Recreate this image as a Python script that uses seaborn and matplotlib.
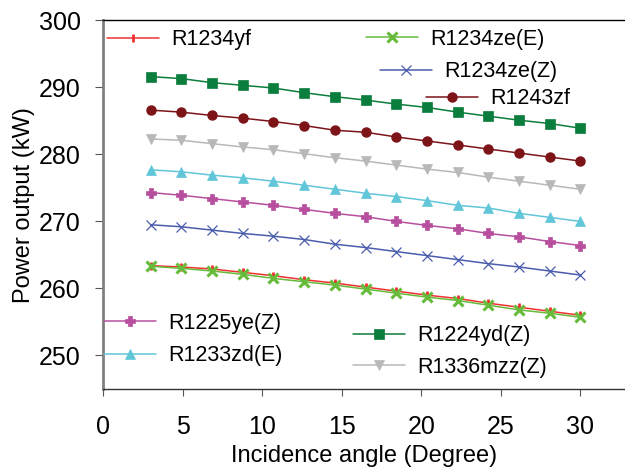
import matplotlib
matplotlib.use('Agg')
import matplotlib.pyplot as plt
import seaborn as sns
import pandas as pd

# incidence angle (degree)
angle = [3, 4.93, 6.86, 8.79, 10.71, 12.64, 14.57, 16.5, 18.43, 20.36, 22.29, 24.21, 26.14, 28.07, 30]

# power output (kW)
r1234yf = [263.4, 263.2, 262.9, 262.4, 261.9, 261.3, 260.8, 260.2, 259.6, 259.0, 258.5, 257.8, 257.2, 256.6, 256.0]
r1234ze_e = [263.3, 263.0, 262.6, 262.1, 261.5, 261.0, 260.5, 259.9, 259.3, 258.7, 258.2, 257.5, 256.8, 256.3, 255.7]
r1234ze_z = [269.5, 269.2, 268.7, 268.2, 267.8, 267.3, 266.6, 266.1, 265.5, 264.9, 264.3, 263.7, 263.2, 262.6, 262.0]
r1243zf = [286.6, 286.3, 285.8, 285.4, 284.9, 284.3, 283.6, 283.3, 282.6, 282.0, 281.4, 280.8, 280.2, 279.6, 279.0]
r1225ye_z = [274.3, 273.9, 273.4, 272.9, 272.4, 271.8, 271.2, 270.7, 270.0, 269.4, 268.9, 268.2, 267.7, 267.0, 266.4]
r1233zd_e = [277.7, 277.4, 276.9, 276.5, 276.0, 275.4, 274.8, 274.2, 273.7, 273.1, 272.4, 272.0, 271.2, 270.6, 270.0]
r1224yd_z = [291.6, 291.3, 290.7, 290.3, 289.9, 289.2, 288.6, 288.1, 287.5, 287.0, 286.3, 285.7, 285.1, 284.6, 283.9]
r1336mzz_z = [282.3, 282.1, 281.6, 281.1, 280.7, 280.1, 279.5, 279.0, 278.4, 277.8, 277.3, 276.6, 276.0, 275.4, 274.8]

fluids = ['R1234yf', 'R1234ze(E)', 'R1234ze(Z)', 'R1243zf',
          'R1225ye(Z)', 'R1233zd(E)', 'R1224yd(Z)', 'R1336mzz(Z)']
values = [r1234yf, r1234ze_e, r1234ze_z, r1243zf,
          r1225ye_z, r1233zd_e, r1224yd_z, r1336mzz_z]

df = pd.concat([pd.DataFrame({'angle': angle, 'power': v, 'fluid': f})
                for f, v in zip(fluids, values)], ignore_index=True)

# color, marker, markersize, edge width
styles = {
    'R1234yf':     ('#f03030', '|', 6, 2.0),
    'R1234ze(E)':  ('#66bb3a', 'x', 6.5, 2.2),
    'R1234ze(Z)':  ('#4a5cae', 'x', 7, 0.9),
    'R1243zf':     ('#7c1418', 'o', 6.5, 1.0),
    'R1225ye(Z)':  ('#b84f9e', 'P', 7.5, 0.5),
    'R1233zd(E)':  ('#60c6d8', '^', 7.5, 0.5),
    'R1224yd(Z)':  ('#0b7d3c', 's', 6.5, 0.5),
    'R1336mzz(Z)': ('#b8b8b8', 'v', 7.5, 0.5),
}

# legend slots: (handle left px, centre y px)
legend_pos = {
    'R1234yf': (107, 40),
    'R1234ze(E)': (366, 39),
    'R1234ze(Z)': (380, 72),
    'R1243zf': (426, 99),
    'R1225ye(Z)': (104, 323),
    'R1233zd(E)': (104, 356),
    'R1224yd(Z)': (353, 336),
    'R1336mzz(Z)': (353, 367),
}

sns.set_style('ticks')
plt.rcParams['font.family'] = ['Liberation Sans', 'DejaVu Sans']
plt.rcParams['text.color'] = 'black'
plt.rcParams['axes.labelcolor'] = 'black'
plt.rcParams['xtick.labelcolor'] = 'black'
plt.rcParams['ytick.labelcolor'] = 'black'

W, H = 625, 472
fig = plt.figure(figsize=(W / 100, H / 100), dpi=100)
ax = fig.add_axes([103 / W, 1 - 389 / H, 1 - 103 / W, (389 - 20.3) / H])

handles = {}
for f in fluids:
    c, m, ms, mew = styles[f]
    sub = df[df['fluid'] == f]
    sns.lineplot(data=sub, x='angle', y='power', ax=ax, color=c, marker=m,
                 markersize=ms, markeredgewidth=mew, markeredgecolor=c,
                 linewidth=1.1, legend=False)
    handles[f] = ax.lines[-1]

ax.set_xlim(0, 32.8)
ax.set_ylim(245, 300)
ax.set_xticks([0, 5, 10, 15, 20, 25, 30])
ax.set_yticks([250, 260, 270, 280, 290, 300])
ax.set_xlabel('Incidence angle (Degree)', fontsize=17, labelpad=4)
ax.set_ylabel('Power output (kW)', fontsize=17, labelpad=3)
ax.tick_params(axis='both', labelsize=18, direction='out', color='#555555',
               labelcolor='black')
ax.tick_params(axis='y', length=6, pad=10)
ax.tick_params(axis='x', length=5, pad=14)

ax.spines['right'].set_visible(False)
ax.spines['left'].set_color('#808080')
ax.spines['left'].set_linewidth(2)
ax.spines['top'].set_color('black')
ax.spines['top'].set_linewidth(1)
ax.spines['bottom'].set_color('#333333')
ax.spines['bottom'].set_linewidth(1)

for f in fluids:
    x, y = legend_pos[f]
    fig.legend(handles=[handles[f]], labels=[f], loc='center left',
               bbox_to_anchor=(x / W, 1 - y / H), frameon=False,
               borderpad=0, borderaxespad=0, handlelength=2.4,
               handletextpad=0.6, fontsize=15.5, numpoints=1)

fig.savefig('out.png', dpi=100)
plt.close()
